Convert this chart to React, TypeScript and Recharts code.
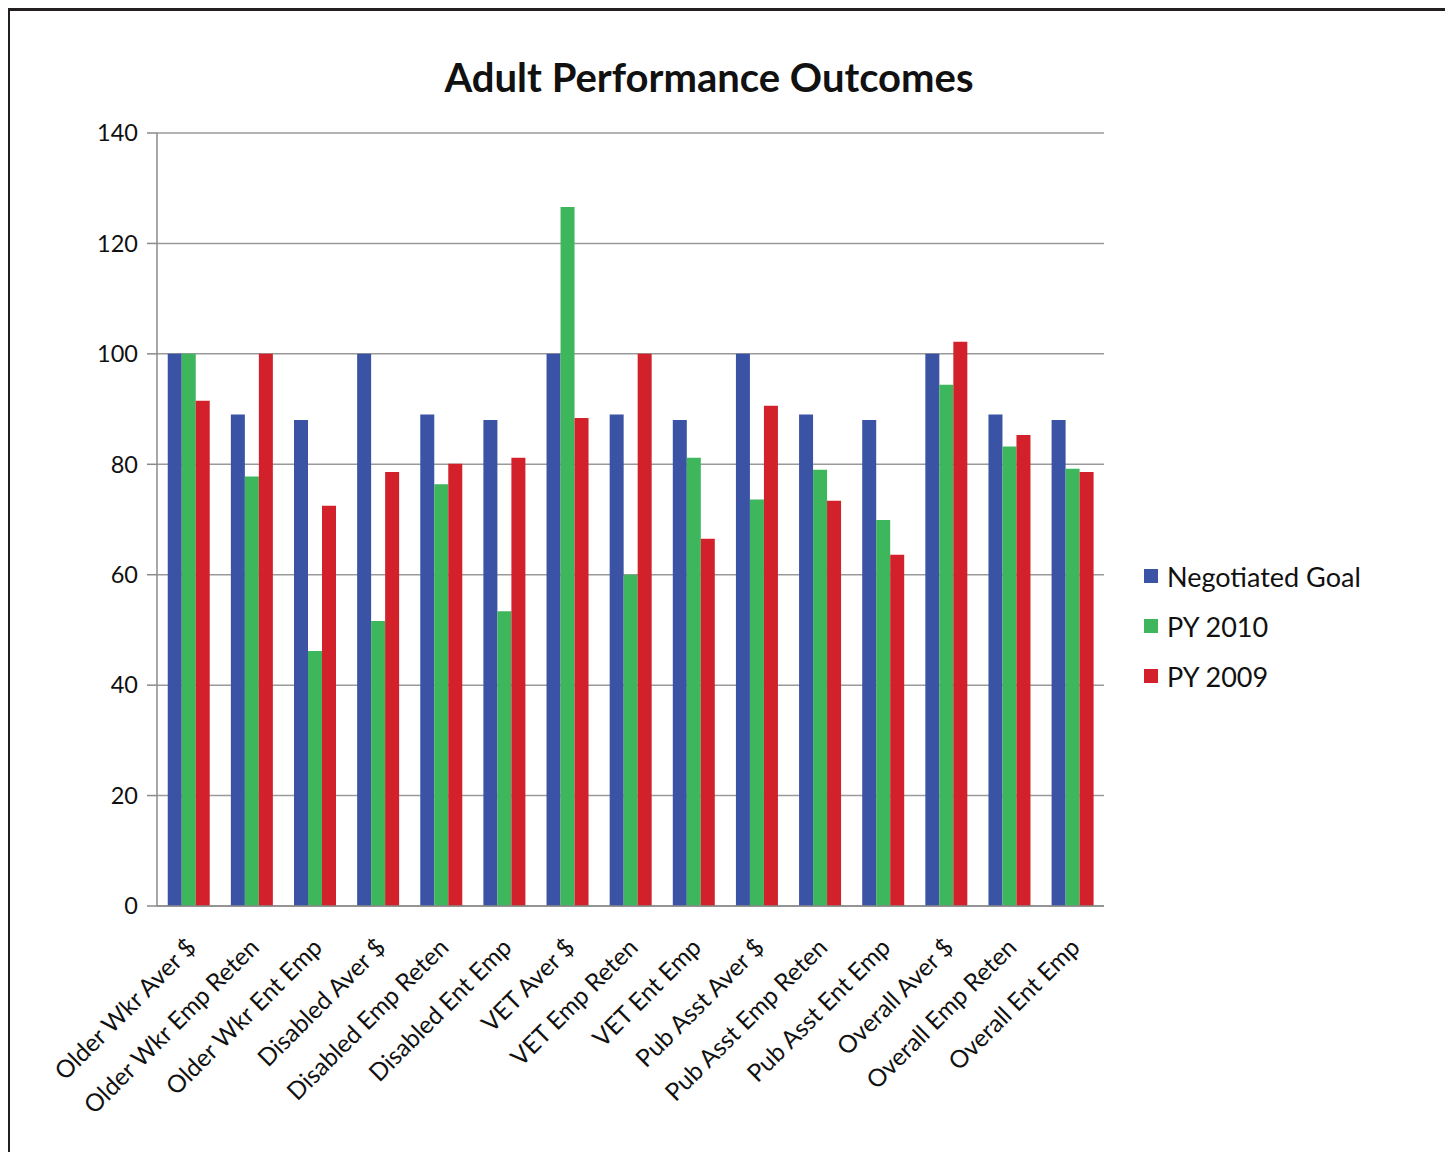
import React from "react";
import {
  BarChart,
  Bar,
  XAxis,
  YAxis,
  CartesianGrid,
  Legend,
} from "recharts";

const categories = [
  "Older Wkr Aver $",
  "Older Wkr Emp Reten",
  "Older Wkr Ent Emp",
  "Disabled Aver $",
  "Disabled Emp Reten",
  "Disabled Ent Emp",
  "VET Aver $",
  "VET Emp Reten",
  "VET Ent Emp",
  "Pub Asst Aver $",
  "Pub Asst Emp Reten",
  "Pub Asst Ent Emp",
  "Overall Aver $",
  "Overall Emp Reten",
  "Overall Ent Emp",
];

const negotiatedGoal = [100, 89, 88, 100, 89, 88, 100, 89, 88, 100, 89, 88, 100, 89, 88];
const py2010 = [100, 77.8, 46.2, 51.6, 76.4, 53.4, 126.6, 60, 81.2, 73.6, 79, 69.9, 94.4, 83.2, 79.2];
const py2009 = [91.5, 100, 72.5, 78.6, 80.1, 81.2, 88.4, 100, 66.5, 90.6, 73.4, 63.6, 102.2, 85.3, 78.6];

const yTicks = [0, 20, 40, 60, 80, 100, 120, 140];

const series = [
  { key: "goal", name: "Negotiated Goal", color: "#3B53A4" },
  { key: "py2010", name: "PY 2010", color: "#3EB65C" },
  { key: "py2009", name: "PY 2009", color: "#D2212B" },
];

const data = categories.map((name, i) => ({
  name,
  goal: negotiatedGoal[i],
  py2010: py2010[i],
  py2009: py2009[i],
}));

const FONT = "Lato, 'Open Sans', sans-serif";

function XTick(props: any) {
  const { x, y, payload } = props;
  const ax = x + 9;
  const ay = y + 35;
  return (
    <text
      x={ax}
      y={ay}
      transform={`rotate(-45, ${ax}, ${ay})`}
      textAnchor="end"
      fontFamily={FONT}
      fontSize={24.5}
      fill="#111"
    >
      {payload.value}
    </text>
  );
}

function LegendBox() {
  return (
    <div style={{ fontFamily: FONT }}>
      {series.map((s) => (
        <div
          key={s.key}
          style={{ display: "flex", alignItems: "center", height: 50 }}
        >
          <div
            style={{ width: 14, height: 14, background: s.color, marginRight: 9 }}
          />
          <span style={{ fontSize: 27, color: "#111" }}>{s.name}</span>
        </div>
      ))}
    </div>
  );
}

export default function App() {
  return (
    <div style={{ position: "relative", width: 1437, height: 1144 }}>
      <div
        style={{
          position: "absolute",
          left: -1,
          top: 0,
          width: 1442,
          height: 1160,
          border: "3px solid #231f20",
          boxSizing: "border-box",
          pointerEvents: "none",
        }}
      />
      <div
        style={{
          position: "absolute",
          left: 701 - 400,
          top: 45,
          width: 800,
          textAlign: "center",
          fontFamily: FONT,
          fontWeight: 700,
          fontSize: 40,
          color: "#111",
        }}
      >
        Adult Performance Outcomes
      </div>
      <BarChart
        width={1437}
        height={1144}
        data={data}
        margin={{ top: 125, right: 341, left: 0, bottom: 0 }}
        barCategoryGap="17%"
        barGap={0}
      >
        <CartesianGrid vertical={false} stroke="#9a9a9a" strokeWidth={1.5} />
        <XAxis
          dataKey="name"
          height={246}
          interval={0}
          tickLine={false}
          axisLine={{ stroke: "#8a8a8a", strokeWidth: 1.5 }}
          tick={<XTick />}
        />
        <YAxis
          width={149}
          domain={[0, 140]}
          ticks={yTicks}
          interval={0}
          tickSize={10}
          tickMargin={9}
          axisLine={{ stroke: "#8a8a8a", strokeWidth: 1.5 }}
          tickLine={{ stroke: "#8a8a8a", strokeWidth: 1.5 }}
          tick={{ fill: "#111", fontSize: 23.5, fontFamily: FONT }}
        />
        <Legend
          layout="vertical"
          align="center"
          verticalAlign="middle"
          content={<LegendBox />}
          wrapperStyle={{ left: 1136, top: 543, width: 260 }}
        />
        {series.map((s) => (
          <Bar
            key={s.key}
            dataKey={s.key}
            name={s.name}
            fill={s.color}
            isAnimationActive={false}
          />
        ))}
      </BarChart>
    </div>
  );
}
